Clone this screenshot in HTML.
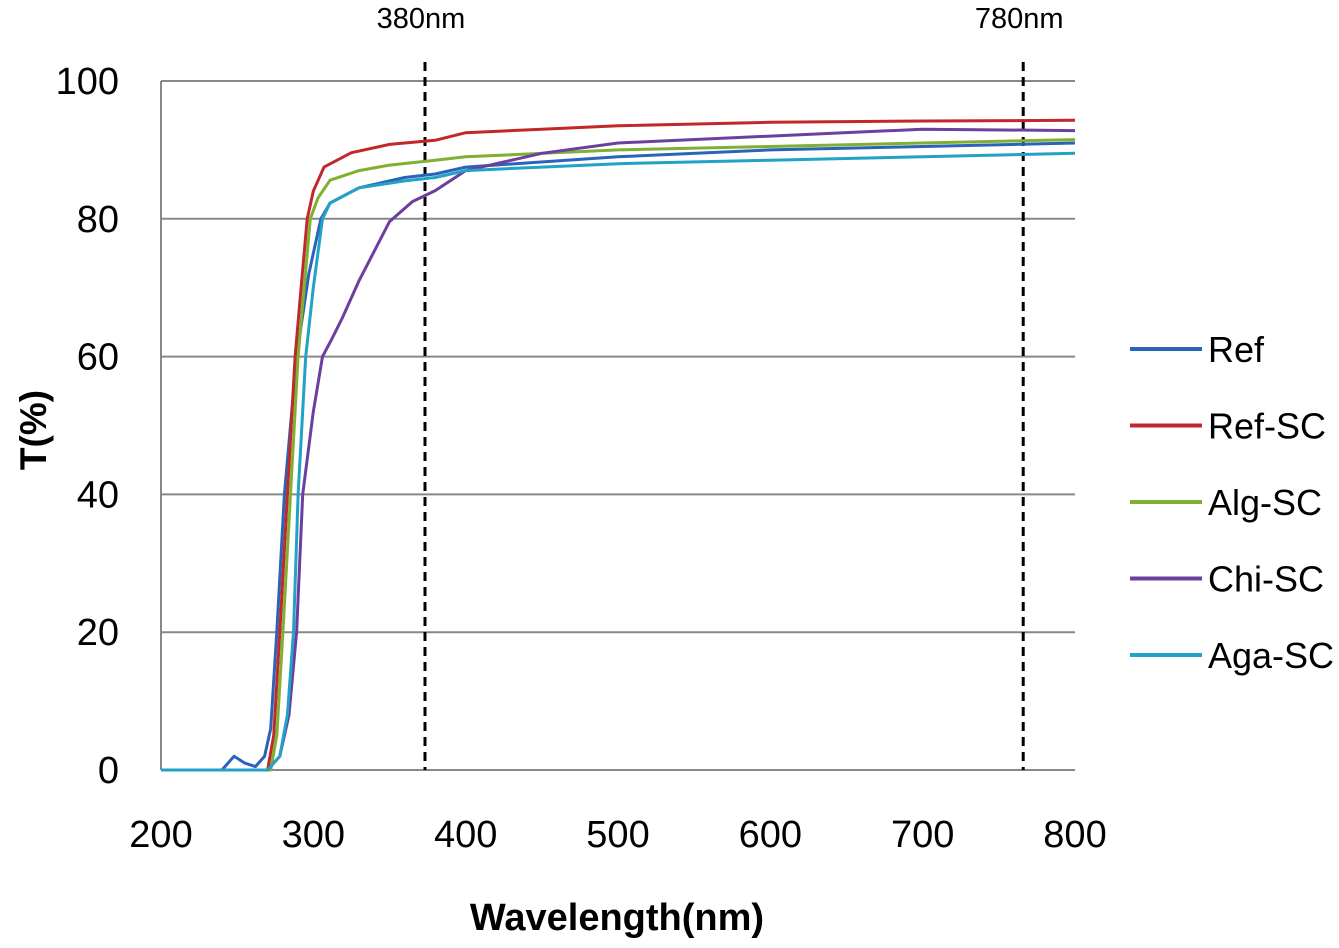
<!DOCTYPE html>
<html><head><meta charset="utf-8"><style>
body{margin:0;background:#fff;}
svg{display:block;font-family:"Liberation Sans",sans-serif;}
</style></head><body>
<svg id="chart" width="1339" height="948" viewBox="0 0 1339 948" xmlns="http://www.w3.org/2000/svg">
<g id="grid"></g><g id="axes"></g><g id="series"></g><g id="legend"></g>
<text x="0" y="0" transform="translate(46,430) rotate(-90)" text-anchor="middle" font-size="37" font-weight="bold">T(%)</text>
<text x="617" y="930" text-anchor="middle" font-size="38" font-weight="bold">Wavelength(nm)</text>
</svg>
<script>
const xTicks=[200,300,400,500,600,700,800];
const yTicks=[0,20,40,60,80,100];
const markerLines=[373.3,766];
const markerLabels=["380nm","780nm"];
const seriesNames=["Ref","Ref-SC","Alg-SC","Chi-SC","Aga-SC"];
const seriesColors=["#2a63b8","#c0282a","#7fb032","#6a3f9e","#22a2c4"];
const refX=[200,240,248,255,262,268,272,276,281,289,297,305,311,330,360,380,400,500,600,700,800];
const refY=[0,0,2,1,0.5,2,6,20,40,60,72,80,82.3,84.5,86,86.5,87.5,89,90,90.5,91];
const refScX=[200,262,270,274,278,283,288,292,296,300,307,325,350,380,400,450,500,600,700,800];
const refScY=[0,0,0,5,20,40,60,70,80,84,87.5,89.6,90.8,91.4,92.5,93,93.5,94,94.2,94.3];
const algX=[200,262,272,276,280,285,290,294,298,303,311,330,350,380,400,500,600,700,800];
const algY=[0,0,0,5,20,40,60,70,80,83,85.6,87,87.8,88.5,89,90,90.5,91,91.5];
const chiX=[200,270,278,284,289,293,300,306,312,319,330,350,365,380,400,450,500,600,700,800];
const chiY=[0,0,2,8,20,40,52,60,62.5,65.6,71,79.6,82.5,84.1,87,89.5,91,92,93,92.8];
const agaX=[200,270,278,283,287,290,295,300,306,311,330,360,380,400,500,600,700,800];
const agaY=[0,0,2,8,20,40,60,70,80,82.3,84.5,85.5,86,87,88,88.5,89,89.5];
const allX=[refX,refScX,algX,chiX,agaX];
const allY=[refY,refScY,algY,chiY,agaY];
const NS="http://www.w3.org/2000/svg";
const L=161,R=1075,T=81,B=770;
const sx=v=>L+(v-200)/600*(R-L);
const sy=v=>B-v/100*(B-T);
function mk(tag,attrs,parent,txt){const e=document.createElementNS(NS,tag);for(const k in attrs)e.setAttribute(k,attrs[k]);if(txt!==undefined)e.textContent=txt;parent.appendChild(e);return e;}
const grid=document.getElementById('grid'),axes=document.getElementById('axes'),ser=document.getElementById('series'),leg=document.getElementById('legend');
yTicks.forEach(t=>{
 if(t>0){const g=mk('line',{x1:L,x2:R,y1:sy(t),y2:sy(t),stroke:'#888','stroke-width':2},grid);
 
 }
 const lb=mk('text',{x:119,y:sy(t)+13,'text-anchor':'end','font-size':38},axes,String(t));
 
 
});
xTicks.forEach(t=>{
 const lb=mk('text',{x:sx(t),y:847,'text-anchor':'middle','font-size':38},axes,String(t));
 
 
});
const ya=mk('line',{x1:L,x2:L,y1:T,y2:B,stroke:'#888','stroke-width':2},axes);


const xa=mk('line',{x1:L,x2:R,y1:B,y2:B,stroke:'#888','stroke-width':2},axes);


markerLines.forEach((m,i)=>{
 const d=mk('line',{x1:sx(m),x2:sx(m),y1:62,y2:B,stroke:'#000','stroke-width':3,'stroke-dasharray':'9,6'},axes);
 
 
 const t=mk('text',{x:sx(m)-4,y:28,'text-anchor':'middle','font-size':29},axes,markerLabels[i]);
 
 
});
seriesNames.forEach((n,i)=>{
 const pts=allX[i].map((x,j)=>sx(x).toFixed(1)+','+sy(allY[i][j]).toFixed(1)).join(' ');
 const p=mk('polyline',{points:pts,fill:'none',stroke:seriesColors[i],'stroke-width':3,'stroke-linejoin':'round'},ser);
 
 
 const y=349+i*76.5;
 const ll=mk('line',{x1:1130,x2:1202,y1:y,y2:y,stroke:seriesColors[i],'stroke-width':4},leg);
 
 
 const lt=mk('text',{x:1208,y:y+13,'font-size':36},leg,n);
 
 
});
</script>
</body></html>
